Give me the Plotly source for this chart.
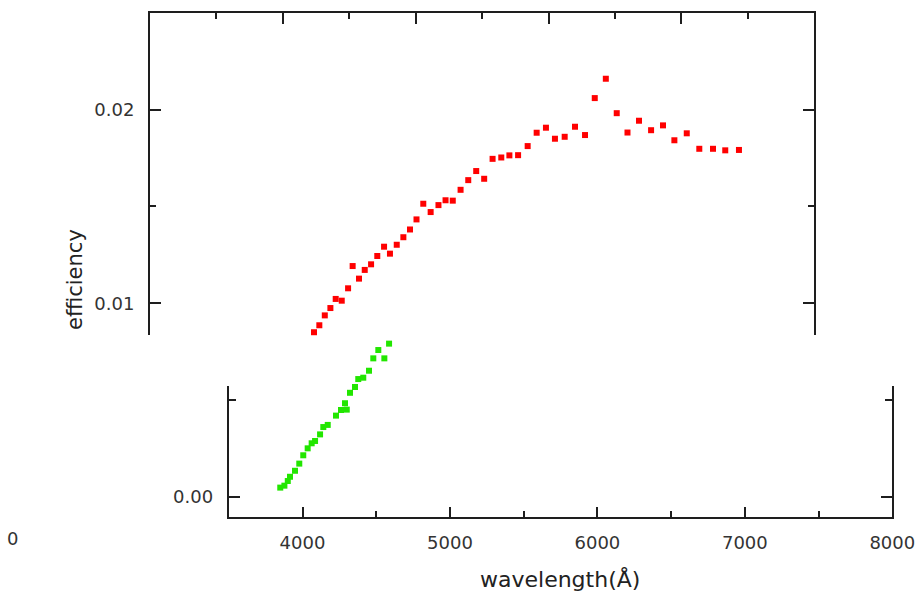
import plotly.graph_objects as go

W, H = 923, 599

# ---- data ----
red_wavelength = [4078, 4114, 4151, 4189, 4225, 4266, 4309, 4340, 4383, 4422,
                  4465, 4507, 4553, 4593, 4639, 4684, 4729, 4773, 4819, 4869,
                  4922, 4970, 5019, 5072, 5124, 5178, 5232, 5289, 5348, 5403,
                  5462, 5527, 5588, 5651, 5712, 5778, 5848, 5916, 5982, 6057,
                  6131, 6204, 6282, 6364, 6445, 6522, 6606, 6691, 6784, 6867, 6960]
red_efficiency = [0.00850, 0.00886, 0.00937, 0.00975, 0.01022, 0.01013, 0.01077, 0.01192,
                  0.01127, 0.01172, 0.01201, 0.01244, 0.01292, 0.01256, 0.01302, 0.01341,
                  0.01381, 0.01433, 0.01514, 0.01471, 0.01507, 0.01532, 0.01530, 0.01586,
                  0.01636, 0.01683, 0.01643, 0.01746, 0.01753, 0.01764, 0.01765, 0.01812,
                  0.01881, 0.01907, 0.01850, 0.01860, 0.01912, 0.01869, 0.02060, 0.02160,
                  0.01982, 0.01882, 0.01943, 0.01894, 0.01919, 0.01842, 0.01878, 0.01798,
                  0.01798, 0.01790, 0.01792]

green_wavelength = [3849, 3877, 3900, 3915, 3949, 3978, 4005, 4035, 4062, 4085,
                    4119, 4141, 4171, 4227, 4261, 4288, 4300, 4322, 4356, 4378,
                    4412, 4451, 4480, 4514, 4555, 4587]
green_efficiency = [0.00047, 0.00057, 0.00081, 0.00103, 0.00134, 0.00171, 0.00214, 0.00250,
                    0.00276, 0.00288, 0.00322, 0.00360, 0.00371, 0.00419, 0.00448, 0.00483,
                    0.00450, 0.00537, 0.00567, 0.00608, 0.00615, 0.00651, 0.00715, 0.00758,
                    0.00715, 0.00791]

x_tick_labels = ["4000", "5000", "6000", "7000", "8000"]
x_tick_values = [4000, 5000, 6000, 7000, 8000]

# ---- pixel geometry helpers ----
def px_x(p):
    return p / W

def px_y(p):
    return 1 - p / H

PX_PER_UNIT = 19350.0   # pixels per unit of efficiency
Y0_PX = 496.7           # pixel row of efficiency 0

def val_at(py):
    return (Y0_PX - py) / PX_PER_UNIT

FONT = "DejaVu Sans"
TICK_FONT = dict(family=FONT, size=18, color="#333")
LINE = "#1e1e1e"

fig = go.Figure()

# empty traces so that both frames get drawn
fig.add_trace(go.Scatter(x=[None], y=[None], mode="markers", xaxis="x", yaxis="y",
                         showlegend=False, hoverinfo="skip"))
fig.add_trace(go.Scatter(x=[None], y=[None], mode="markers", xaxis="x2", yaxis="y2",
                         showlegend=False, hoverinfo="skip"))

fig.add_trace(go.Scatter(
    x=red_wavelength, y=red_efficiency, mode="markers",
    marker=dict(symbol="square", size=6, color="#ff0000"),
    xaxis="x3", yaxis="y3", showlegend=False))
fig.add_trace(go.Scatter(
    x=green_wavelength, y=green_efficiency, mode="markers",
    marker=dict(symbol="square", size=6, color="#22e600"),
    xaxis="x3", yaxis="y3", showlegend=False))

bx0, bx1 = 228.8, 892.3
fig.update_layout(
    width=W, height=H,
    margin=dict(l=0, r=0, t=0, b=0, autoexpand=False),
    paper_bgcolor="white", plot_bgcolor="rgba(0,0,0,0)",
    showlegend=False,
    # bottom frame
    xaxis=dict(domain=[px_x(bx0), px_x(bx1)], range=[3500, 8000], anchor="y",
               showline=True, linecolor=LINE, linewidth=2, mirror=False,
               ticks="inside", ticklen=10, tickwidth=2, tickcolor=LINE,
               tickvals=x_tick_values, ticktext=x_tick_labels,
               minor=dict(ticks="inside", ticklen=6, tickwidth=2, tickcolor=LINE, dtick=500, tick0=3500),
               showgrid=False, zeroline=False, tickfont=TICK_FONT, ticklabelstandoff=8,
               automargin=False),
    yaxis=dict(domain=[px_y(517.3), px_y(386)], range=[val_at(517.3), val_at(386)], anchor="x",
               showline=True, linecolor=LINE, linewidth=2, mirror="ticks",
               ticks="inside", ticklen=11, tickwidth=2, tickcolor=LINE,
               tick0=0, dtick=0.01, tickformat=".2f",
               minor=dict(ticks="inside", ticklen=7, tickwidth=2, tickcolor=LINE, dtick=0.005, tick0=0),
               showgrid=False, zeroline=False, tickfont=TICK_FONT, ticklabelstandoff=10,
               automargin=False),
    # top frame
    xaxis2=dict(domain=[px_x(150), px_x(814.3)], range=[3000, 8000], anchor="y2", side="top",
                showline=True, linecolor=LINE, linewidth=2, mirror=False,
                ticks="inside", ticklen=11, tickwidth=2, tickcolor=LINE, dtick=1000, tick0=3000,
                minor=dict(ticks="inside", ticklen=6, tickwidth=2, tickcolor=LINE, dtick=500, tick0=3000),
                showticklabels=False, showgrid=False, zeroline=False, automargin=False),
    yaxis2=dict(domain=[px_y(335), px_y(13.3)], range=[val_at(335), val_at(13.3)], anchor="x2",
                showline=True, linecolor=LINE, linewidth=2, mirror="ticks",
                ticks="inside", ticklen=11, tickwidth=2, tickcolor=LINE,
                tick0=0, dtick=0.01, tickformat=".2f",
                minor=dict(ticks="inside", ticklen=6, tickwidth=2, tickcolor=LINE, dtick=0.005, tick0=0),
                showgrid=False, zeroline=False, tickfont=TICK_FONT, ticklabelstandoff=10,
                automargin=False),
    # data axes spanning the whole picture height
    xaxis3=dict(domain=[px_x(bx0), px_x(bx1)], range=[3500, 8000], anchor="y3", visible=False),
    yaxis3=dict(domain=[0, 1], range=[val_at(H), val_at(0)], anchor="x3", visible=False),
)

fig.add_annotation(x=px_x(560), y=px_y(579), xref="paper", yref="paper",
                   xanchor="center", yanchor="middle",
                   text="wavelength(Å)", showarrow=False,
                   font=dict(family=FONT, size=22, color="#222"))
fig.add_annotation(x=px_x(75), y=px_y(280), xref="paper", yref="paper",
                   xanchor="center", yanchor="middle",
                   text="efficiency", showarrow=False, textangle=-90,
                   font=dict(family=FONT, size=21, color="#222"))
fig.add_annotation(x=px_x(12), y=px_y(538), xref="paper", yref="paper",
                   xanchor="center", yanchor="middle",
                   text="0", showarrow=False, font=TICK_FONT)

fig.write_html("out.html")
